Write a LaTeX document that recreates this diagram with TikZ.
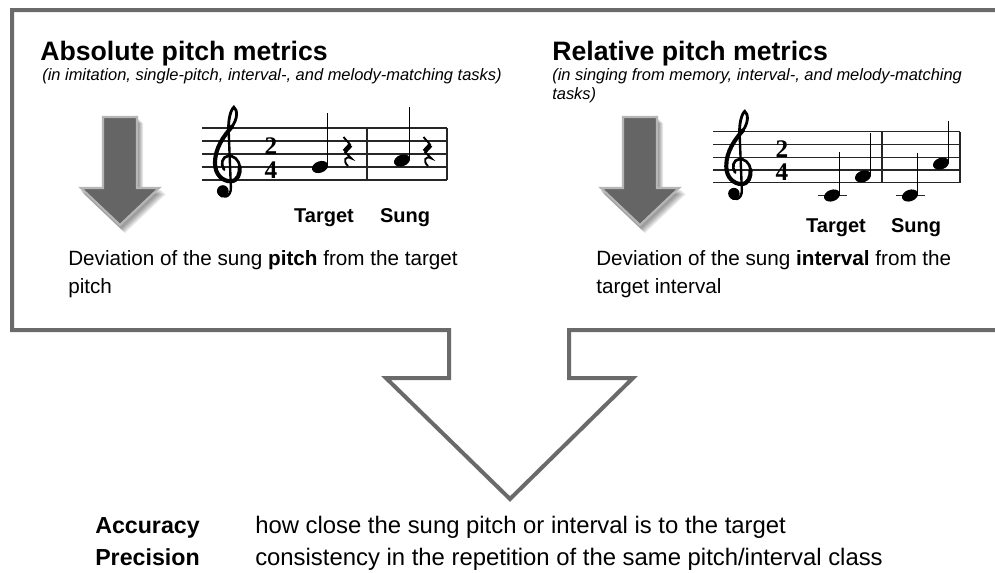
\documentclass[tikz,border=0pt]{standalone}
\usepackage{fontspec}
\usetikzlibrary{calc}
\setsansfont{Liberation Sans}
\newfontfamily\meterfont{Liberation Serif}
\definecolor{framegray}{HTML}{6A6A6A}
\definecolor{arrowbody}{HTML}{656565}
\definecolor{arrowrim}{HTML}{B6B6B6}
\tikzset{
  frameline/.style={draw=framegray, line width=3pt, line join=miter},
  staffline/.style={line width=0.95pt, black!85},
  barline/.style={line width=1pt, black!85},
  stemline/.style={line width=1.2pt, black},
  headtxt/.style={font=\sffamily\bfseries\fontsize{20}{24}\selectfont, anchor=base west, inner sep=0pt},
  subtxt/.style={font=\sffamily\itshape\fontsize{12.35}{14}\selectfont, anchor=base west, inner sep=0pt},
  bodytxt/.style={font=\sffamily\fontsize{15.5}{18}\selectfont, anchor=base west, inner sep=0pt},
  notelabel/.style={font=\sffamily\bfseries\fontsize{15}{18}\selectfont, anchor=base, inner sep=0pt},
  termtxt/.style={font=\sffamily\bfseries\fontsize{17.4}{22}\selectfont, anchor=base west, inner sep=0pt},
  defntxt/.style={font=\sffamily\fontsize{17.9}{22}\selectfont, anchor=base west, inner sep=0pt},
  metertxt/.style={font=\meterfont\bfseries\fontsize{19}{19}\selectfont, inner sep=0pt},
  % grey block arrow pointing down, origin at the top centre of the shaft
  pics/downarrow/.style={code={
    \foreach \dx/\dy in {1/2,2/3,3/4,4/5,5/6}
      \fill[black, opacity=0.09, shift={(\dx,\dy)}]
        (-18,0) -- (18,0) -- (18,71) -- (41,71) -- (0,110) -- (-41,71) -- (-18,71) -- cycle;
    \draw[fill=arrowbody, draw=arrowrim, line width=1.6pt, line join=miter]
      (-17,0) -- (17,0) -- (17,71) -- (39,71) -- (0,108) -- (-39,71) -- (-17,71) -- cycle;
  }},
  % treble clef, drawn in staff spaces with the G line at y = 0
  pics/gclef/.style={code={
    \begin{scope}[xscale=#1, yscale=-#1]
      \fill (-0.4,-1.85) circle [radius=0.45];
      \draw[line width=1.8pt, line cap=round]
        (-0.7,-1.95) .. controls (-0.55,-2.5) and (0.3,-2.4) .. (0.22,-1.5)
        -- (0.05,2.8);
      \draw[line width=2.1pt, line cap=round]
        (0.05,2.8)
        .. controls (0.0,3.6) and (0.2,4.4) .. (0.45,4.6)
        .. controls (0.75,4.4) and (0.75,3.7) .. (0.3,3.1);
      \draw[line width=3.1pt, line cap=round]
        (0.3,3.1)
        .. controls (-0.3,2.4) and (-1.0,1.5) .. (-1.0,0.3)
        .. controls (-1.0,-0.6) and (-0.4,-1.1) .. (0.2,-1.1)
        .. controls (0.75,-1.1) and (0.95,-0.5) .. (0.9,0.0);
      \draw[line width=2pt, line cap=round]
        (0.9,0.0)
        .. controls (0.85,0.6) and (0.4,0.9) .. (0.0,0.85)
        .. controls (-0.45,0.8) and (-0.6,0.2) .. (-0.3,-0.2);
    \end{scope}
  }},
  % quarter rest, origin at its top
  pics/qrest/.style={code={
    \draw[line width=1.4pt] (-3.5,0) -- (3.5,8);
    \draw[line width=3.6pt] (3.5,8) -- (-2.5,14.5);
    \draw[line width=1.4pt] (-2.5,14.5) -- (4.5,21.5)
      .. controls (-2,18) and (-4.5,24) .. (1,29);
  }},
}
% filled note head with an upward stem on its right
\newcommand\quarternote[4]{% x, y, stem top, name
  \fill[shift={(#1,#2)}, rotate=20] (0,0) ellipse [x radius=6.2pt, y radius=4.3pt];
  \coordinate (#4) at (#1,#2);
  \draw[stemline] ($(#4)+(7.5,-1.5)$) -- (#1+7.5,#3);
}
\begin{document}
\begin{tikzpicture}[x=0.75pt, y=-0.75pt]
\useasboundingbox (0,0) rectangle (995,572);
\clip (0,0) rectangle (995,572);
\fill[white] (0,0) rectangle (995,572);

% open frame that narrows into the large hollow arrow
\draw[frameline] (1010,10) -- (12,10) -- (12,330) -- (449,330) -- (449,378)
  -- (386,378) -- (510,499) -- (633,378) -- (569,378) -- (569,330) -- (1010,330);

% ---------- absolute pitch metrics ----------
\node[headtxt] (abstitle) at (40,60) {Absolute pitch metrics};
\node[subtxt] (abssub) at (42,80) {(in imitation, single-pitch, interval-, and melody-matching tasks)};
\pic (absarrow) at (120,117) {downarrow};

\foreach \k in {0,...,4} \draw[staffline] (202,128+13*\k) -- (447,128+13*\k);
\draw[barline] (367,128) -- (367,180);
\draw[barline] (447,128) -- (447,180);
\pic (absclef) at (228,167) {gclef=13};
\node[metertxt] (absnum) at (271,146.5) {2};
\node[metertxt] (absden) at (271,170) {4};
\quarternote{320}{167}{113}{abst}
\pic (absrestA) at (347,137) {qrest};
\quarternote{402}{160.5}{107}{abss}
\pic (absrestB) at (427,137) {qrest};
\node[notelabel] (abstarget) at (324,222) {Target};
\node[notelabel] (abssung) at (405,222) {Sung};

\node[bodytxt] (absdev1) at (68,265) {Deviation of the sung \textbf{pitch} from the target};
\node[bodytxt] (absdev2) at (68,293) {pitch};

% ---------- relative pitch metrics ----------
\node[headtxt] (reltitle) at (552,60) {Relative pitch metrics};
\node[subtxt] (relsub1) at (552,80) {(in singing from memory, interval-, and melody-matching};
\node[subtxt] (relsub2) at (552,99) {tasks)};
\pic (relarrow) at (640,117) {downarrow};

\foreach \k in {0,...,4} \draw[staffline] (713,131.75+12.75*\k) -- (960,131.75+12.75*\k);
\draw[barline] (882,131.75) -- (882,182.75);
\draw[barline] (960,131.75) -- (960,182.75);
\pic (relclef) at (739,170) {gclef=12.75};
\node[metertxt] (relnum) at (782,149) {2};
\node[metertxt] (relden) at (782,172) {4};
\draw[staffline] (818,195.5) -- (847,195.5);
\quarternote{832}{195.5}{152}{relt1}
\quarternote{863}{176.4}{133}{relt2}
\draw[staffline] (896,195.5) -- (925,195.5);
\quarternote{910}{195.5}{153}{rels1}
\quarternote{941}{163.6}{121}{rels2}
\node[notelabel] (reltarget) at (836,232) {Target};
\node[notelabel] (relsung) at (916,232) {Sung};

\node[bodytxt] (reldev1) at (596,265) {Deviation of the sung \textbf{interval} from the};
\node[bodytxt] (reldev2) at (596,293) {target interval};

% ---------- definitions ----------
\node[termtxt] (accterm) at (95,533) {Accuracy};
\node[defntxt] (accdef) at (255,533) {how close the sung pitch or interval is to the target};
\node[termtxt] (preterm) at (95,565) {Precision};
\node[defntxt] (predef) at (255,565) {consistency in the repetition of the same pitch/interval class};
\end{tikzpicture}
\end{document}
